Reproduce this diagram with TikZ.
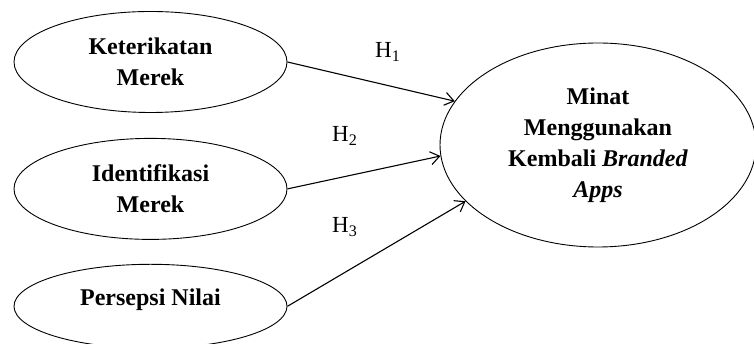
\documentclass[tikz,border=0pt]{standalone}
\usepackage{fontspec}
\setmainfont{Liberation Serif}
\usetikzlibrary{arrows.meta, positioning, shapes.geometric}

\begin{document}
\begin{tikzpicture}[x=1pt, y=1pt,
    var/.style={draw, ellipse, line width=0.9pt, inner sep=0pt, align=center, font=\fontsize{24}{31}\selectfont\bfseries, minimum width=273pt, minimum height=101pt},
    hyp/.style={inner sep=0pt, anchor=base west, font=\fontsize{23}{27}\selectfont},
    link/.style={-{Straight Barb[length=9pt, width=13pt]}, line width=1.1pt}]
    \useasboundingbox (0,0) rectangle (754,344);
    \node[var] (kete) at (150.5,282) {Keterikatan\\Merek};
    \node[var, below=25pt of kete] (iden) {Identifikasi\\Merek};
    \node[var, below=24pt of iden, minimum height=84pt, text depth=18pt] (pers) {Persepsi Nilai};
    \node[var, minimum width=316pt, minimum height=204pt] (mina) at (598,199) {Minat\\Menggunakan\\Kembali \textit{Branded}\\\textit{Apps}};
    \node[hyp] (h1) at (375,286) {H\textsubscript{1}};
    \node[hyp] (h2) at (332,202) {H\textsubscript{2}};
    \node[hyp] (h3) at (332,111) {H\textsubscript{3}};
    \draw[link] (kete.east) -- (mina.163);
    \draw[link] (iden.east) -- (mina.184);
    \draw[link] (pers.east) -- (mina.203);
\end{tikzpicture}
\end{document}
